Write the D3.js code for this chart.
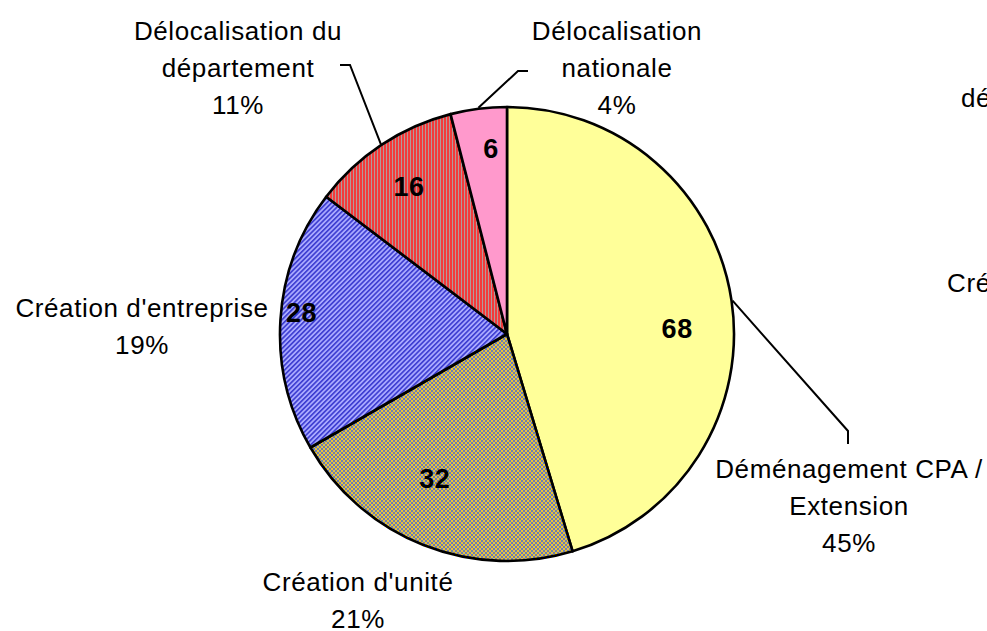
<!DOCTYPE html>
<html>
<head>
<meta charset="utf-8">
<script src="https://cdn.jsdelivr.net/npm/d3@7"></script>
<style>
  html, body { margin: 0; padding: 0; background: #fff; overflow: hidden; }
  svg { display: block; }
  text { font-family: "Liberation Sans", Arial, sans-serif; fill: #000; }
</style>
</head>
<body>
<div class="vis-pie"></div>
<script>
// data
const categories = ["Déménagement CPA / Extension", "Création d'unité", "Création d'entreprise",
                    "Délocalisation du département", "Délocalisation nationale"];
const values = [68, 32, 28, 16, 6];
const labelLines = [["Déménagement CPA /", "Extension"], ["Création d'unité"], ["Création d'entreprise"],
                    ["Délocalisation du", "département"], ["Délocalisation", "nationale"]];
// partially visible labels of the neighbouring chart (cut off at the right edge)
const clippedLabels = ["département", "Création d'entreprise"];

const W = 987, H = 631;
const cx = 507, cy = 334, radius = 227;
const lineH = 37;

// where excel put the labels (text anchor x, first baseline)
const labelPos = [[849, 478], [358, 591], [142, 317], [238, 40], [617, 40]];
// leader lines: elbow + end of stub, null = no line
const leaders = [[[848, 431], [848, 444]], null, null, [[350, 65], [340, 65]], [[518, 71], [528, 71]]];
// value labels: angle nudge (deg) and radius fraction
const valueNudge = [[6.4, 0.75], [5, 0.71], [2.5, 0.91], [0, 0.78], [2.3, 0.82]];

const svg = d3.select('.vis-pie')
    .append('svg')
    .attr('width', W)
    .attr('height', H);

const defs = svg.append('defs');

// red with grey vertical stripes
const pRed = defs.append('pattern').attr('id', 'p-red')
    .attr('patternUnits', 'userSpaceOnUse').attr('width', 3).attr('height', 3);
pRed.append('rect').attr('width', 3).attr('height', 3).attr('fill', '#f23b3b');
pRed.append('rect').attr('x', 2).attr('width', 1).attr('height', 3).attr('fill', '#b39a9a');

// blue diagonal stripes
const pBlue = defs.append('pattern').attr('id', 'p-blue')
    .attr('patternUnits', 'userSpaceOnUse').attr('width', 3.4).attr('height', 10)
    .attr('patternTransform', 'rotate(45)');
pBlue.append('rect').attr('width', 3.4).attr('height', 10).attr('fill', '#a9a9ff');
pBlue.append('rect').attr('width', 1.6).attr('height', 10).attr('fill', '#3b3bd0');

// yellow / blue checker
const pCheck = defs.append('pattern').attr('id', 'p-check')
    .attr('patternUnits', 'userSpaceOnUse').attr('width', 4).attr('height', 4);
pCheck.append('rect').attr('width', 4).attr('height', 4).attr('fill', '#e9c53a');
pCheck.append('rect').attr('width', 2).attr('height', 2).attr('fill', '#6a7cb8');
pCheck.append('rect').attr('x', 2).attr('y', 2).attr('width', 2).attr('height', 2).attr('fill', '#6a7cb8');

const fills = ['#ffff99', 'url(#p-check)', 'url(#p-blue)', 'url(#p-red)', '#ff99cc'];

const total = d3.sum(values);
const pie = d3.pie().sort(null).value(d => d);
const arcs = pie(values);
const arc = d3.arc().innerRadius(0).outerRadius(radius);

const g = svg.append('g').attr('transform', `translate(${cx},${cy})`);

g.selectAll('path.slice')
    .data(arcs)
    .enter().append('path')
    .attr('class', 'slice')
    .attr('d', arc)
    .attr('fill', (d, i) => fills[i])
    .attr('stroke', '#000')
    .attr('stroke-width', 2.6)
    .attr('stroke-linejoin', 'round');

const mid = d => (d.startAngle + d.endAngle) / 2;
const polar = (a, r) => [cx + r * Math.sin(a), cy - r * Math.cos(a)];

// value labels inside
svg.selectAll('text.val')
    .data(arcs)
    .enter().append('text')
    .attr('class', 'val')
    .attr('x', (d, i) => polar(mid(d) + valueNudge[i][0] * Math.PI / 180, radius * valueNudge[i][1])[0])
    .attr('y', (d, i) => polar(mid(d) + valueNudge[i][0] * Math.PI / 180, radius * valueNudge[i][1])[1])
    .attr('dy', '0.36em')
    .attr('text-anchor', 'middle')
    .style('font-size', '27px')
    .style('font-weight', 'bold')
    .style('letter-spacing', '0.5px')
    .text(d => d.data);

// leader lines
arcs.forEach((d, i) => {
    if (!leaders[i]) return;
    const p0 = polar(mid(d), radius + 1);
    svg.append('path')
        .attr('d', d3.line()([p0, leaders[i][0], leaders[i][1]]))
        .attr('fill', 'none')
        .attr('stroke', '#000')
        .attr('stroke-width', 2);
});

// category labels with percentage
arcs.forEach((d, i) => {
    const lines = labelLines[i].concat([Math.round(values[i] / total * 100) + '%']);
    const t = svg.append('text')
        .attr('text-anchor', 'middle')
        .style('font-size', '26px')
        .style('letter-spacing', '0.6px');
    lines.forEach((s, k) => {
        t.append('tspan')
            .attr('x', labelPos[i][0])
            .attr('y', labelPos[i][1] + k * lineH)
            .text(s);
    });
});

// bits of the next chart that show at the right edge
svg.append('text').attr('x', 961).attr('y', 107)
    .style('font-size', '26px').style('letter-spacing', '0.6px').text(clippedLabels[0]);
svg.append('text').attr('x', 947).attr('y', 292)
    .style('font-size', '26px').style('letter-spacing', '0.6px').text(clippedLabels[1]);
</script>
</body>
</html>
